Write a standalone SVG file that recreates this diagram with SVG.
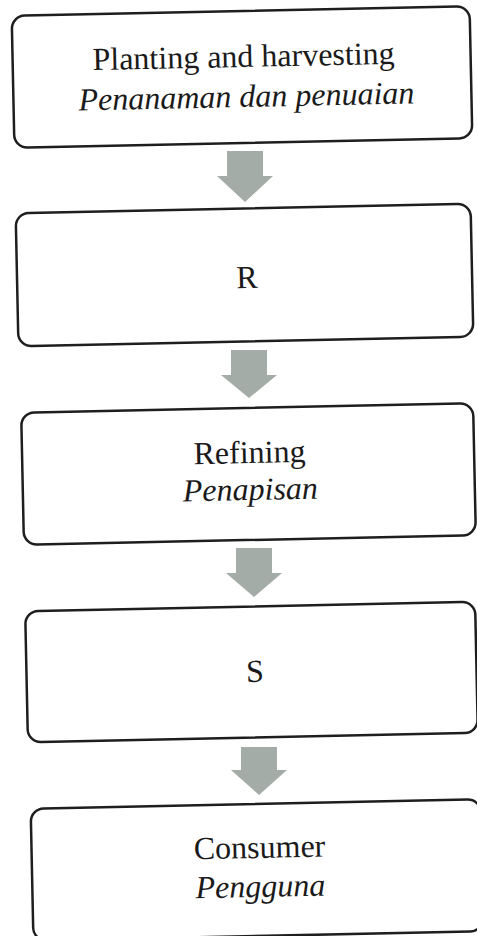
<svg xmlns="http://www.w3.org/2000/svg" width="477" height="936" viewBox="0 0 477 936">
<style>
.box{fill:#ffffff;stroke:#1e1e1e;stroke-width:2.5}
.t{font-family:"Liberation Serif","Times New Roman",serif;font-size:32px;fill:#1a1a1a;text-anchor:middle}
.i{font-style:italic}
.arr{fill:#a4aca7}
</style>
<rect width="477" height="936" fill="#ffffff"/>
<g id="connectors">
<polygon class="arr" points="227,151 263,151 263,176 273,176 245,202 217,176 227,176"/>
<polygon class="arr" points="231,350 267,350 267,375 277,375 249,398 221,375 231,375"/>
<polygon class="arr" points="236,548 272,548 272,573 282,573 254,597 226,573 236,573"/>
<polygon class="arr" points="241,747 277,747 277,770 287,770 259,795 231,770 241,770"/>
</g>
<g id="node1" transform="rotate(-1.2 242 77)">
<rect class="box" x="13" y="11" width="458" height="132" rx="13"/>
<text class="t" x="244" y="67">Planting and harvesting</text>
<text class="t i" x="246" y="107">Penanaman dan penuaian</text>
</g>
<g id="node2" transform="rotate(-1.2 244.5 275)">
<rect class="box" x="17" y="208.5" width="455" height="133" rx="13"/>
<text class="t" x="247" y="288">R</text>
</g>
<g id="node3" transform="rotate(-1.2 248.5 474)">
<rect class="box" x="22.5" y="408" width="452" height="132" rx="13"/>
<text class="t" x="250" y="463">Refining</text>
<text class="t i" x="250" y="500">Penapisan</text>
</g>
<g id="node4" transform="rotate(-1.2 251.5 672)">
<rect class="box" x="26.5" y="606.5" width="450" height="131" rx="13"/>
<text class="t" x="255" y="682">S</text>
</g>
<g id="node5" transform="rotate(-1.2 257 870)">
<rect class="box" x="32" y="804" width="450" height="132" rx="13"/>
<text class="t" x="260" y="858">Consumer</text>
<text class="t i" x="260" y="897">Pengguna</text>
</g>
</svg>
